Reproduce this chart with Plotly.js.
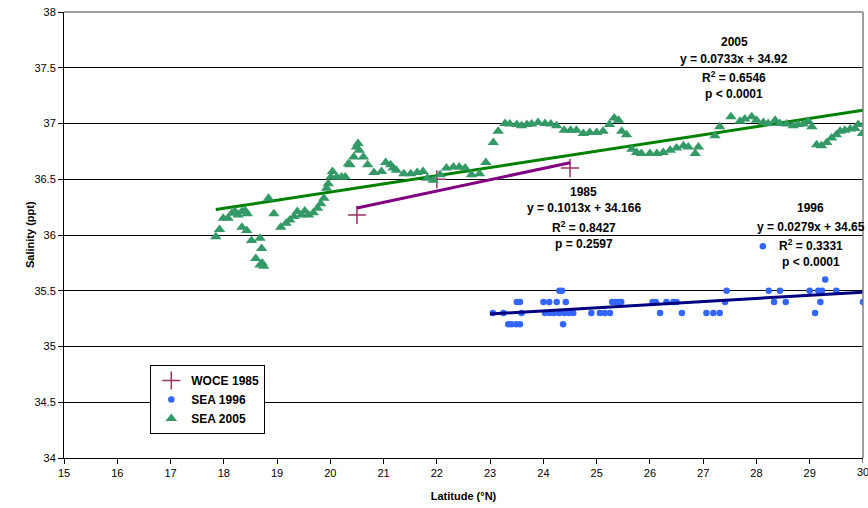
<!DOCTYPE html>
<html>
<head>
<meta charset="utf-8">
<script src="https://cdn.plot.ly/plotly-3.0.1.min.js"></script>
<style>html,body{margin:0;padding:0;background:#fff;}#chart{width:868px;height:508px;}</style>
</head>
<body>
<div id="chart"></div>
<script>
// WOCE 1985
const woce1985Lat = [20.5, 22.0, 24.5];
const woce1985Sal = [36.18, 36.5, 36.6];

// SEA 1996
const sea1996Lat = [23.05, 23.25, 23.34, 23.40, 23.49, 23.50, 23.56, 23.59, 23.56, 24.00, 24.03, 24.11, 24.12, 24.20, 24.25, 24.30, 24.35, 24.30, 24.37, 24.40, 24.42, 24.48, 24.56, 24.90, 25.06, 25.15, 25.25, 25.29, 25.34, 25.40, 25.46, 26.05, 26.11, 26.19, 26.31, 26.44, 26.50, 26.60, 27.06, 27.19, 27.31, 27.41, 27.44, 28.12, 28.23, 28.33, 28.44, 28.55, 29.00, 29.10, 29.16, 29.20, 29.23, 29.29, 29.50, 30.00];
const sea1996Sal = [35.3, 35.3, 35.2, 35.2, 35.2, 35.4, 35.4, 35.3, 35.2, 35.4, 35.3, 35.4, 35.3, 35.3, 35.4, 35.5, 35.5, 35.3, 35.2, 35.3, 35.4, 35.3, 35.3, 35.3, 35.3, 35.3, 35.3, 35.4, 35.4, 35.4, 35.4, 35.4, 35.4, 35.3, 35.4, 35.4, 35.4, 35.3, 35.3, 35.3, 35.3, 35.4, 35.5, 35.9, 35.5, 35.4, 35.5, 35.4, 35.5, 35.3, 35.5, 35.4, 35.5, 35.6, 35.5, 35.4];

// SEA 2005
const sea2005Lat = [17.85, 17.92, 17.99, 18.08, 18.15, 18.21, 18.27, 18.34, 18.40, 18.44, 18.34, 18.43, 18.52, 18.60, 18.68, 18.68, 18.71, 18.72, 18.75, 18.84, 18.94, 19.07, 19.17, 19.24, 19.32, 19.38, 19.46, 19.52, 19.59, 19.68, 19.76, 19.82, 19.88, 19.93, 19.96, 20.01, 20.04, 20.12, 20.21, 20.28, 20.34, 20.37, 20.44, 20.49, 20.52, 20.54, 20.62, 20.70, 20.82, 20.96, 21.04, 21.13, 21.18, 21.24, 21.38, 21.51, 21.63, 21.74, 21.82, 21.93, 22.06, 22.18, 22.31, 22.42, 22.53, 22.65, 22.80, 22.92, 23.06, 23.15, 23.28, 23.37, 23.50, 23.59, 23.69, 23.78, 23.90, 24.03, 24.14, 24.25, 24.39, 24.51, 24.62, 24.75, 24.87, 25.00, 25.12, 25.24, 25.33, 25.41, 25.47, 25.56, 25.66, 25.75, 25.84, 26.00, 26.13, 26.25, 26.38, 26.50, 26.63, 26.72, 26.85, 26.91, 27.22, 27.31, 27.52, 27.69, 27.78, 27.91, 28.00, 28.13, 28.22, 28.35, 28.44, 28.57, 28.69, 28.78, 28.88, 28.97, 29.04, 29.13, 29.22, 29.32, 29.41, 29.50, 29.57, 29.66, 29.76, 29.85, 29.91, 29.99];
const sea2005Sal = [35.985, 36.05, 36.15, 36.15, 36.195, 36.21, 36.18, 36.21, 36.22, 36.19, 36.07, 36.04, 35.95, 35.79, 35.97, 35.73, 35.88, 35.75, 35.72, 36.33, 36.19, 36.07, 36.105, 36.135, 36.165, 36.21, 36.18, 36.215, 36.18, 36.20, 36.24, 36.28, 36.33, 36.42, 36.46, 36.52, 36.57, 36.52, 36.52, 36.52, 36.64, 36.63, 36.70, 36.79, 36.82, 36.76, 36.70, 36.63, 36.56, 36.57, 36.65, 36.63, 36.60, 36.58, 36.55, 36.55, 36.56, 36.57, 36.51, 36.49, 36.54, 36.60, 36.61, 36.61, 36.60, 36.54, 36.55, 36.65, 36.83, 36.93, 37.00, 36.995, 36.99, 36.98, 36.99, 36.995, 37.01, 37.00, 36.995, 36.98, 36.94, 36.94, 36.94, 36.91, 36.92, 36.92, 36.93, 36.99, 37.05, 37.03, 36.93, 36.90, 36.77, 36.74, 36.73, 36.73, 36.73, 36.74, 36.76, 36.78, 36.80, 36.79, 36.73, 36.79, 36.89, 36.97, 37.06, 37.02, 37.04, 37.06, 37.03, 37.01, 37.00, 37.03, 37.00, 36.995, 36.98, 36.99, 36.995, 37.02, 36.97, 36.81, 36.80, 36.83, 36.87, 36.90, 36.93, 36.94, 36.95, 36.955, 36.99, 36.91];

// Trend line endpoints (from the fitted equations shown on the chart)
const trend1985Lat = [20.5, 24.5];
const trend1985Sal = [36.243, 36.648];
const trend1996Lat = [23.0, 30.0];
const trend1996Sal = [35.292, 35.487];
const trend2005Lat = [17.85, 30.0];
const trend2005Sal = [36.228, 37.119];

// Axis ticks
const xTicks = [15, 16, 17, 18, 19, 20, 21, 22, 23, 24, 25, 26, 27, 28, 29];
const xEdgeTick = 30;
const yTicks = [34, 34.5, 35, 35.5, 36, 36.5, 37, 37.5, 38];

// Annotation text blocks
const labels2005 = ["2005", "y = 0.0733x + 34.92", "R<sup>2</sup> = 0.6546", "p < 0.0001"];
const labels1985 = ["1985", "y = 0.1013x + 34.166", "R<sup>2</sup> = 0.8427", "p = 0.2597"];
const labels1996 = ["1996", "y = 0.0279x + 34.65", "R<sup>2</sup> = 0.3331", "p < 0.0001"];

const FONT = "Liberation Sans, Arial, sans-serif";

const traces = [
  {x: trend2005Lat, y: trend2005Sal, mode: "lines", line: {color: "#008000", width: 3}, showlegend: false, hoverinfo: "skip"},
  {x: woce1985Lat, y: woce1985Sal, mode: "markers", name: "WOCE 1985",
   marker: {symbol: "cross-thin", size: 13, line: {color: "#993366", width: 1.5}, color: "#993366"}},
  {x: sea1996Lat, y: sea1996Sal, mode: "markers", name: "SEA 1996",
   marker: {symbol: "circle", size: 6.5, color: "#3366FF", line: {width: 0}}},
  {x: sea2005Lat, y: sea2005Sal, mode: "markers", name: "SEA 2005",
   marker: {symbol: "triangle-up", size: 10, color: "#339966", line: {width: 0}}},
  {x: trend1985Lat, y: trend1985Sal, mode: "lines", line: {color: "#800080", width: 3}, showlegend: false, hoverinfo: "skip"},
  {x: trend1996Lat, y: trend1996Sal, mode: "lines", line: {color: "#000080", width: 3}, showlegend: false, hoverinfo: "skip"}
];

function block(lines, x, ys) {
  return lines.map((t, i) => ({
    text: t, x: x, y: ys[i], xref: "x", yref: "y", showarrow: false,
    xanchor: "center", yanchor: "middle",
    font: {family: FONT, size: 12, color: "#000", weight: "bold"}
  }));
}

const annotations = [].concat(
  block(labels2005, 27.58, [37.734, 37.578, 37.414, 37.265]),
  block(labels1985, 24.76, [36.388, 36.24, 36.069, 35.915]),
  block(labels1996, 29.02, [36.242, 36.07, 35.91, 35.758]),
  [{text: String(xEdgeTick), x: xEdgeTick, xref: "x", y: 0, yref: "paper",
    yanchor: "top", xanchor: "center", yshift: -6, showarrow: false,
    font: {family: FONT, size: 11, color: "#000"}},
   {text: "Salinity (ppt)", x: 0, xref: "paper", xshift: -34, y: 0.5, yref: "paper",
    textangle: -90, xanchor: "center", yanchor: "middle", showarrow: false,
    font: {family: FONT, size: 11, color: "#000", weight: "bold"}}]
);

const layout = {
  width: 868, height: 508,
  margin: {l: 64, r: 5, t: 12, b: 50},
  paper_bgcolor: "#fff", plot_bgcolor: "#fff",
  font: {family: FONT, size: 11, color: "#000"},
  xaxis: {
    range: [15, 30], tickvals: xTicks, ticktext: xTicks.map(String),
    showgrid: false, zeroline: false, showline: true, linecolor: "#000", linewidth: 1,
    ticks: "outside", ticklen: 5, tickcolor: "#000",
    tickfont: {family: FONT, size: 11},
    title: {text: "Latitude (°N)", font: {family: FONT, size: 11, weight: "bold"}, standoff: 14}
  },
  yaxis: {
    range: [34, 38], tickvals: yTicks, ticktext: yTicks.map(String),
    showgrid: true, gridcolor: "#000", gridwidth: 1, zeroline: false,
    showline: true, linecolor: "#000", linewidth: 1,
    ticks: "outside", ticklen: 5, tickcolor: "#000",
    tickfont: {family: FONT, size: 11}
  },
  shapes: [
    {type: "line", xref: "paper", yref: "paper", x0: 1, x1: 1, y0: 0, y1: 1, line: {color: "#808080", width: 1.5}},
    {type: "line", xref: "paper", yref: "paper", x0: 0, x1: 1, y0: 1, y1: 1, line: {color: "#808080", width: 1.5}},
    {type: "line", xref: "x", yref: "paper", x0: xEdgeTick, x1: xEdgeTick, ysizemode: "pixel", yanchor: 0, y0: -5, y1: 0, line: {color: "#000", width: 1}}
  ],
  legend: {
    x: 0.108, y: 0.2085, xanchor: "left", yanchor: "top",
    bgcolor: "#fff", bordercolor: "#000", borderwidth: 1,
    font: {family: FONT, size: 12, weight: "bold"},
    itemwidth: 30, tracegroupgap: 0
  },
  annotations: annotations,
  showlegend: true
};

Plotly.newPlot("chart", traces, layout, {displayModeBar: false, staticPlot: true});
</script>
</body>
</html>
